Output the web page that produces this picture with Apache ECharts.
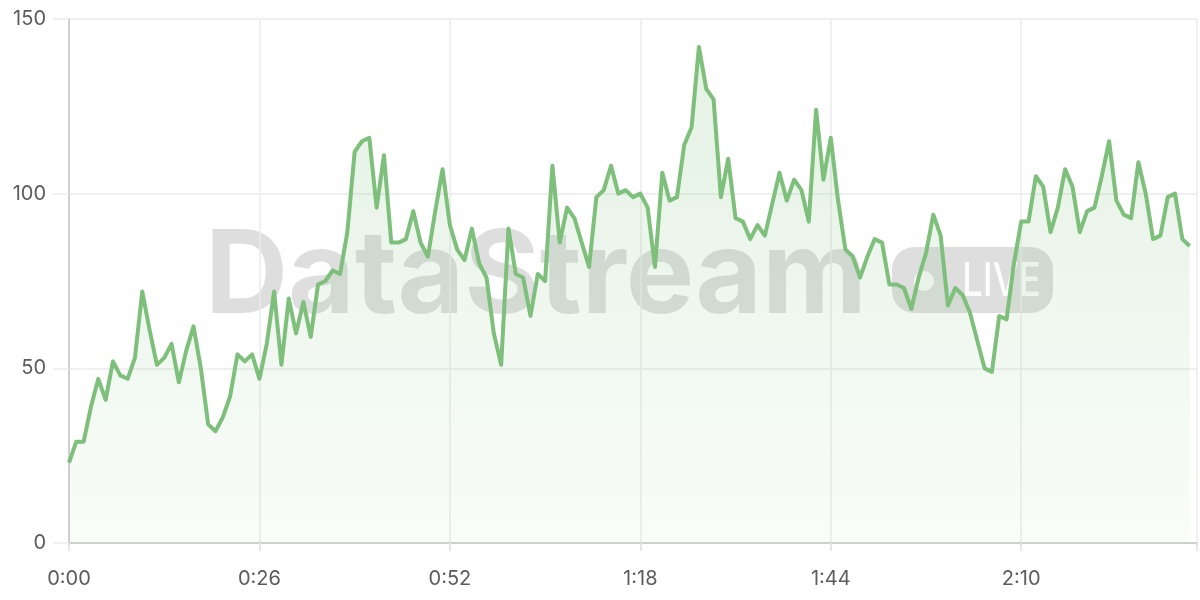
<!DOCTYPE html>
<html>
<head>
<meta charset="utf-8">
<script src="https://cdn.jsdelivr.net/npm/echarts@6/dist/echarts.min.js"></script>
<style>
html,body{margin:0;padding:0;background:#fff;}
#chart{width:1200px;height:600px;}
</style>
</head>
<body>
<div id="chart"></div>
<script>
// Values, one per second starting at 0:00
const values = [
  23, 29, 29, 39, 47, 41, 52, 48, 47, 53,
  72, 61, 51, 53, 57, 46, 55, 62, 50, 34,
  32, 36, 42, 54, 52, 54, 47, 57, 72, 51,
  70, 60, 69, 59, 74, 75, 78, 77, 89, 112,
  115, 116, 96, 111, 86, 86, 87, 95, 86, 82,
  95, 107, 91, 84, 81, 90, 80, 76, 60, 51,
  90, 77, 76, 65, 77, 75, 108, 86, 96, 93,
  86, 79, 99, 101, 108, 100, 101, 99, 100, 96,
  79, 106, 98, 99, 114, 119, 142, 130, 127, 99,
  110, 93, 92, 87, 91, 88, 97, 106, 98, 104,
  101, 92, 124, 104, 116, 98, 84, 82, 76, 82,
  87, 86, 74, 74, 73, 67, 76, 83, 94, 88,
  68, 73, 71, 66, 58, 50, 49, 65, 64, 80,
  92, 92, 105, 102, 89, 96, 107, 102, 89, 95,
  96, 105, 115, 98, 94, 93, 109, 100, 87, 88,
  99, 100, 87, 85
];
const xTickSeconds = [0, 26, 52, 78, 104, 130];
const yTicks = [0, 50, 100, 150];
const watermarkText = 'DataStream';
const badgeText = 'LIVE';

function fmt(s) {
  const m = Math.floor(s / 60);
  const ss = Math.round(s % 60);
  return m + ':' + (ss < 10 ? '0' : '') + ss;
}

const seriesData = values.map((v, i) => [i, v]);

const chart = echarts.init(document.getElementById('chart'));
const green = '#7dbf7b';
chart.setOption({
  animation: false,
  backgroundColor: '#ffffff',
  grid: { left: 69, right: 0, top: 19, bottom: 57 },
  xAxis: {
    type: 'value',
    min: 0,
    max: 154,
    interval: 26,
    axisLine: { show: true, lineStyle: { color: '#d0d0d0', width: 2 } },
    axisTick: { show: true, length: 8, lineStyle: { color: '#e6e6e6', width: 2 } },
    splitLine: { show: true, lineStyle: { color: '#ebebeb', width: 1.5 } },
    axisLabel: {
      color: '#5c5c5c', fontSize: 20, fontFamily: 'Inter', margin: 26,
      formatter: function (v) { return xTickSeconds.indexOf(v) >= 0 ? fmt(v) : ''; }
    }
  },
  yAxis: {
    type: 'value',
    min: yTicks[0],
    max: yTicks[yTicks.length - 1],
    interval: 50,
    axisLine: { show: true, lineStyle: { color: '#d0d0d0', width: 2 } },
    axisTick: { show: true, length: 16, lineStyle: { color: '#ebebeb', width: 1.5 } },
    splitLine: { show: true, lineStyle: { color: '#ebebeb', width: 1.5 } },
    axisLabel: { color: '#5c5c5c', fontSize: 20, fontFamily: 'Inter', margin: 23 }
  },
  graphic: [
    {
      type: 'text', z: 0, x: 205, y: 278,
      style: {
        text: watermarkText, font: 'bold 115px Inter', fill: 'rgba(0,0,0,0.13)',
        textAlign: 'left', verticalAlign: 'middle'
      }
    },
    {
      type: 'rect', z: 0,
      shape: { x: 892, y: 247, width: 161, height: 66, r: 22 },
      style: { fill: 'rgba(0,0,0,0.13)' }
    },
    {
      type: 'circle', z: 0,
      shape: { cx: 924, cy: 281, r: 10 },
      style: { fill: 'rgba(255,255,255,0.85)' }
    },
    {
      type: 'text', z: 0, x: 962, y: 282, scaleX: 0.78, scaleY: 1,
      style: {
        text: badgeText, font: '500 47px Inter', fill: 'rgba(255,255,255,0.9)',
        textAlign: 'left', verticalAlign: 'middle'
      }
    }
  ],
  series: [{
    type: 'line',
    data: seriesData,
    showSymbol: false,
    symbol: 'none',
    z: 5,
    lineStyle: { color: green, width: 4, join: 'round' },
    areaStyle: {
      color: new echarts.graphic.LinearGradient(0, 0, 0, 1, [
        { offset: 0, color: 'rgba(125,191,123,0.30)' },
        { offset: 1, color: 'rgba(125,191,123,0.06)' }
      ])
    }
  }]
});
</script>
</body>
</html>
